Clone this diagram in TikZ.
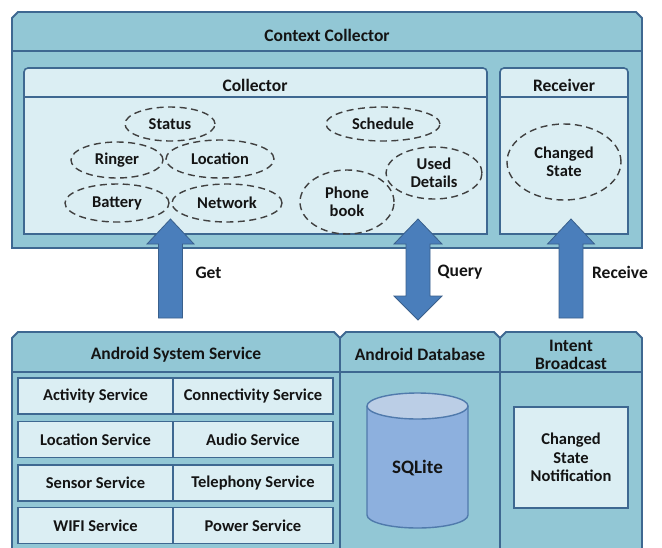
\documentclass[tikz,border=0pt]{standalone}
\usepackage{fontspec}
\setmainfont{Carlito}
\definecolor{outerfill}{RGB}{146,199,213}
\definecolor{bordc}{RGB}{62,104,145}
\definecolor{innerfill}{RGB}{219,238,243}
\definecolor{arrfill}{RGB}{74,126,187}
\definecolor{arrdraw}{RGB}{58,96,140}
\definecolor{cylbody}{RGB}{141,176,222}
\definecolor{cyltop}{RGB}{187,206,230}
\definecolor{cyldraw}{RGB}{80,122,172}
\definecolor{txt}{RGB}{20,20,20}
\tikzset{
  outerbox/.style={fill=outerfill, draw=bordc, line width=1.8pt, line join=miter},
  innerbox/.style={fill=innerfill, draw=bordc, line width=1.6pt},
  hdrline/.style={draw=bordc, line width=1.6pt},
  lbl/.style={font=\bfseries\fontsize{17.5}{19}\selectfont, text=txt, align=center, inner sep=0pt, yshift=-1.5pt},
  ell/.style={ellipse, draw=black!75, line width=1.4pt, dash pattern=on 7pt off 4.5pt, inner sep=0pt,
              font=\bfseries\fontsize{16.5}{18}\selectfont, text=txt, align=center},
  svc/.style={rectangle, fill=innerfill, draw=bordc, line width=1.6pt, inner sep=0pt,
              minimum height=36pt, font=\bfseries\fontsize{16.5}{18}\selectfont, text=txt},
  bigarrow/.style={fill=arrfill, draw=arrdraw, line width=0.8pt, line join=miter},
}
\usetikzlibrary{shapes.geometric}
\begin{document}
\begin{tikzpicture}[x=1pt,y=-1pt]
\clip (0,0) rectangle (662,547);
\fill[white] (0,0) rectangle (662,547);
% ---------- Context Collector ----------
\draw[outerbox] (12,248) -- (12,18) -- (18,12) -- (636,12) -- (642,18) -- (642,248) -- cycle;
\draw[hdrline] (12,51) -- (642,51);
\node[lbl] (cc) at (327,34) {Context Collector};
% Collector
\draw[innerbox] (24,234) [rounded corners=4pt] -- (24,68) -- (487,68) [sharp corners] -- (487,234) -- cycle;
\draw[hdrline] (24,97) -- (487,97);
\node[lbl] (col) at (255,84) {Collector};
% Receiver
\draw[innerbox] (500,234) [rounded corners=4pt] -- (500,68) -- (628,68) [sharp corners] -- (628,234) -- cycle;
\draw[hdrline] (500,97) -- (628,97);
\node[lbl] (rec) at (564,84) {Receiver};
% ellipses
\node[ell, minimum width=90pt, minimum height=34pt] (status) at (170,124) {Status};
\node[ell, minimum width=92pt, minimum height=36pt] (ringer) at (117,160) {Ringer};
\node[ell, minimum width=108pt, minimum height=38pt] (location) at (220,159) {Location};
\node[ell, minimum width=104pt, minimum height=38pt] (battery) at (117,203) {Battery};
\node[ell, minimum width=110pt, minimum height=38pt] (network) at (227,203) {Network};
\node[ell, minimum width=114pt, minimum height=34pt] (schedule) at (383,124) {Schedule};
\node[ell, minimum width=96pt, minimum height=52pt] (used) at (434,173) {Used\\Details};
\node[ell, minimum width=94pt, minimum height=64pt] (phone) at (347,202) {Phone\\book};
\node[ell, minimum width=114pt, minimum height=76pt] (changed) at (564,162) {Changed\\State};
% ---------- bottom section ----------
\draw[outerbox] (12,560) -- (12,338) -- (18,332) -- (334,332) -- (340,338) -- (340,560);
\draw[outerbox] (340,560) -- (340,338) -- (346,332) -- (494,332) -- (500,338) -- (500,560);
\draw[outerbox] (500,560) -- (500,338) -- (506,332) -- (636,332) -- (642,338) -- (642,560) -- cycle;
\draw[hdrline] (12,372) -- (642,372);
\node[lbl] (ass) at (176,353) {Android System Service};
\node[lbl] (adb) at (420,353) {Android Database};
\node[lbl] (ib) at (571,353) {Intent\\[-1pt]Broadcast};
% services grid
\node[svc, minimum width=155pt] (s11) at (95.5,396) {Activity Service};
\node[svc, minimum width=160pt] (s12) at (253,396) {Connectivity Service};
\node[svc, minimum width=155pt] (s21) at (95.5,439.5) {Location Service};
\node[svc, minimum width=160pt] (s22) at (253,439.5) {Audio Service};
\node[svc, minimum width=155pt] (s31) at (95.5,483) {Sensor Service};
\node[svc, minimum width=160pt] (s32) at (253,483) {Telephony Service};
\node[svc, minimum width=155pt] (s41) at (95.5,525.5) {WIFI Service};
\node[svc, minimum width=160pt] (s42) at (253,525.5) {Power Service};
% SQLite cylinder
\filldraw[fill=cylbody, draw=cyldraw, line width=1.4pt] (367,406) -- (367,515)
  arc[start angle=180, end angle=0, x radius=50.5, y radius=13] -- (468,406);
\filldraw[fill=cyltop, draw=cyldraw, line width=1.4pt] (417.5,406) ellipse [x radius=50.5, y radius=13];
\node[lbl, font=\bfseries\fontsize{19}{21}\selectfont] (sql) at (417.5,467) {SQLite};
% notification box
\node[rectangle, fill=innerfill, draw=bordc, line width=1.6pt, minimum width=114pt, minimum height=101pt,
      inner sep=0pt, font=\bfseries\fontsize{16.5}{18.5}\selectfont, text=txt, align=center] (notif) at (571,457.5)
      {Changed\\State\\Notification};
% ---------- arrows ----------
\coordinate (gettip) at (170.5,219);
\coordinate (qtip) at (418,219);
\coordinate (rtip) at (571,219);
\draw[bigarrow] (gettip) -- ++(23.5,25) -- ++(-11.5,0) -- ++(0,74) -- ++(-24,0) -- ++(0,-74) -- ++(-11.5,0) -- cycle;
\draw[bigarrow] (qtip) -- ++(24,25) -- ++(-12,0) -- ++(0,52) -- ++(12,0) -- ++(-24,24) -- ++(-24,-24)
   -- ++(12,0) -- ++(0,-52) -- ++(-12,0) -- cycle;
\draw[bigarrow] (rtip) -- ++(23.5,25) -- ++(-11.5,0) -- ++(0,74) -- ++(-24,0) -- ++(0,-74) -- ++(-11.5,0) -- cycle;
\node[lbl] (get) at (208.5,271) {Get};
\node[lbl] (query) at (460,271) {Query};
\node[lbl] (receive) at (620,271) {Receive};
\end{tikzpicture}
\end{document}
